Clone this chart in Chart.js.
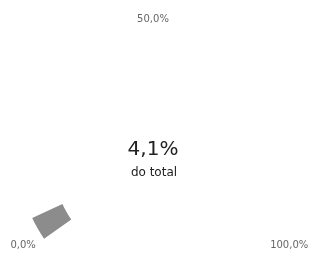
<!DOCTYPE html>
<html>
<head>
<meta charset="utf-8">
<script src="https://cdn.jsdelivr.net/npm/chart.js"></script>
<style>
  html, body { margin: 0; padding: 0; background: #fff; }
  #wrap { width: 315px; height: 255px; }
</style>
</head>
<body>
<div id="wrap"><canvas id="gaugeChart"></canvas></div>
<script>
// --- data ---
const segmentLabels = ['do total', 'restante'];
const segmentValues = [4.1, 95.9];
const tickValues = [0, 50, 100];
const tickLabels = ['0,0%', '50,0%', '100,0%'];
const centerValue = '4,1%';
const centerCaption = 'do total';

const GAUGE_SPAN = 250; // graus

// desenha os rótulos de escala e o texto central
const gaugeText = {
    id: 'gaugeText',
    afterDatasetsDraw(chart) {
        const arc = chart.getDatasetMeta(0).data[0];
        if (!arc) return;
        const { x, y, outerRadius } = arc.getProps(['x', 'y', 'outerRadius'], true);
        const ctx = chart.ctx;
        const start = (chart.options.rotation - 90) * Math.PI / 180;
        const span = chart.options.circumference * Math.PI / 180;

        ctx.save();
        ctx.fillStyle = '#666';
        ctx.font = '10px "DejaVu Sans"';
        ctx.textBaseline = 'middle';
        tickValues.forEach((v, i) => {
            const a = start + span * v / 100;
            const r = outerRadius + 10;
            const tx = x + r * Math.cos(a);
            let ty = y + r * Math.sin(a);
            const c = Math.cos(a);
            if (c < -0.3) ctx.textAlign = 'right';
            else if (c > 0.3) ctx.textAlign = 'left';
            else ctx.textAlign = 'center';
            if (Math.sin(a) > 0) ty += 1;
            ctx.fillText(tickLabels[i], tx, ty);
        });

        ctx.textAlign = 'center';
        ctx.fillStyle = '#222';
        ctx.font = '20px "DejaVu Sans"';
        ctx.fillText(centerValue, x, y - 13);
        ctx.font = '12px "DejaVu Sans"';
        ctx.fillText(centerCaption, x + 1, y + 11);
        ctx.restore();
    }
};

new Chart(document.getElementById('gaugeChart'), {
    type: 'doughnut',
    data: {
        labels: segmentLabels,
        datasets: [{
            data: segmentValues,
            backgroundColor: ['#8c8c8c', 'rgba(0,0,0,0)'],
            borderWidth: 0
        }]
    },
    options: {
        responsive: true,
        maintainAspectRatio: false,
        animation: false,
        circumference: GAUGE_SPAN,
        rotation: -GAUGE_SPAN / 2,
        cutout: '75%',
        layout: {
            padding: { left: 20, right: 29, top: 29, bottom: 16 }
        },
        plugins: {
            legend: { display: false },
            tooltip: { enabled: false }
        }
    },
    plugins: [gaugeText]
});
</script>
</body>
</html>
